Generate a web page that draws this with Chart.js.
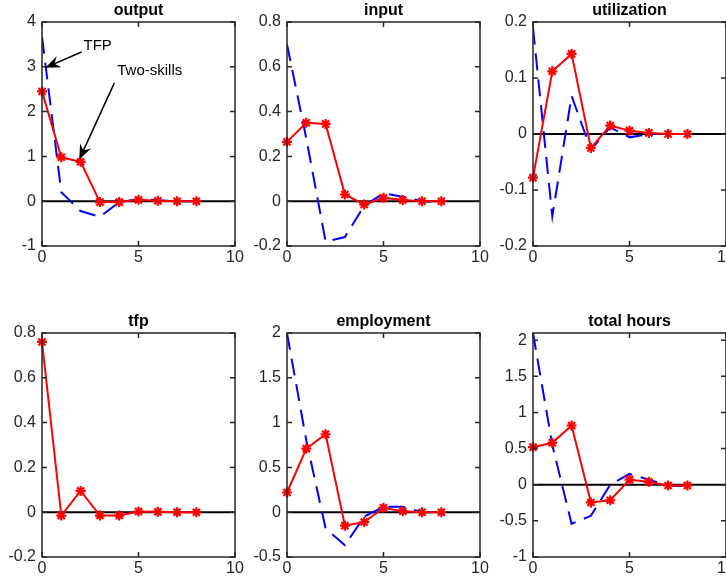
<!DOCTYPE html>
<html>
<head>
<meta charset="utf-8">
<script src="https://cdn.jsdelivr.net/npm/chart.js@4.4.0/dist/chart.umd.min.js"></script>
<style>
  html, body { margin: 0; padding: 0; background: #fff; overflow: hidden; }
  #wrap { position: relative; width: 726px; height: 583px; }
  canvas { position: absolute; }
</style>
</head>
<body>
<div id="wrap">
  <canvas id="c1" width="249" height="272" style="left:0px;top:0px"></canvas>
  <canvas id="c2" width="249" height="272" style="left:245px;top:0px"></canvas>
  <canvas id="c3" width="249" height="272" style="left:491px;top:0px"></canvas>
  <canvas id="c4" width="249" height="272" style="left:0px;top:311px"></canvas>
  <canvas id="c5" width="249" height="272" style="left:245px;top:311px"></canvas>
  <canvas id="c6" width="249" height="272" style="left:491px;top:311px"></canvas>
</div>
<script>
// impulse responses, quarters 0..8
var steps = [0, 1, 2, 3, 4, 5, 6, 7, 8];
var xTicks = [0, 5, 10];

// red = two-skills model, blue dashed = TFP model
var twoSkillsOutput = [2.45, 0.98, 0.88, -0.02, -0.02, 0.03, 0.01, 0.0, 0.0];
var tfpOutput       = [3.67, 0.2, -0.22, -0.35, -0.02, 0.05, 0.02, 0.0, 0.0];

var twoSkillsInput = [0.265, 0.35, 0.345, 0.03, -0.015, 0.015, 0.005, 0.0, 0.0];
var tfpInput       = [0.70, 0.28, -0.18, -0.16, -0.02, 0.035, 0.02, 0.0, -0.005];

var twoSkillsUtil = [-0.078, 0.112, 0.143, -0.025, 0.015, 0.006, 0.002, 0.0, 0.0];
var tfpUtil       = [0.19, -0.147, 0.068, -0.028, 0.012, -0.006, 0.0, 0.0, 0.0];

var twoSkillsTfp = [0.76, -0.015, 0.095, -0.015, -0.015, 0.003, 0.002, 0.0, 0.0];

var twoSkillsEmp = [0.22, 0.71, 0.87, -0.15, -0.11, 0.05, 0.01, 0.0, 0.0];
var tfpEmp       = [2.0, 0.8, -0.18, -0.37, -0.05, 0.06, 0.06, 0.0, 0.0];

var twoSkillsHours = [0.52, 0.58, 0.82, -0.245, -0.215, 0.07, 0.04, -0.01, -0.01];
var tfpHours       = [2.1, 0.55, -0.54, -0.43, 0.0, 0.15, 0.07, -0.01, -0.02];

var yTicksOutput = [-1, 0, 1, 2, 3, 4];
var yTicksInput  = [-0.2, 0, 0.2, 0.4, 0.6, 0.8];
var yTicksUtil   = [-0.2, -0.1, 0, 0.1, 0.2];
var yTicksTfp    = [-0.2, 0, 0.2, 0.4, 0.6, 0.8];
var yTicksEmp    = [-0.5, 0, 0.5, 1, 1.5, 2];
var yTicksHours  = [-1, -0.5, 0, 0.5, 1, 1.5, 2];

var axisColor = '#262626';

function pts(vals) {
    return steps.map(function(s, i) { return { x: s, y: vals[i] }; });
}

// box, inward ticks on all four sides, and the title above
var matlabBox = {
    id: 'matlabBox',
    afterDraw: function(chart, args, opts) {
        var ctx = chart.ctx, a = chart.chartArea;
        var xs = chart.scales.x, ys = chart.scales.y;
        ctx.save();
        ctx.strokeStyle = axisColor;
        ctx.lineWidth = 1.5;
        ctx.strokeRect(a.left, a.top, a.right - a.left, a.bottom - a.top);
        ctx.beginPath();
        xs.ticks.forEach(function(t) {
            var px = xs.getPixelForValue(t.value);
            ctx.moveTo(px, a.bottom); ctx.lineTo(px, a.bottom - 5);
            ctx.moveTo(px, a.top); ctx.lineTo(px, a.top + 5);
        });
        ys.ticks.forEach(function(t) {
            var py = ys.getPixelForValue(t.value);
            ctx.moveTo(a.left, py); ctx.lineTo(a.left + 5, py);
            ctx.moveTo(a.right, py); ctx.lineTo(a.right - 5, py);
        });
        ctx.stroke();
        ctx.fillStyle = '#000';
        ctx.font = 'bold 16px "Liberation Sans", Arial, sans-serif';
        ctx.textAlign = 'center';
        ctx.textBaseline = 'middle';
        ctx.fillText(opts.text, (a.left + a.right) / 2, a.top - 11);
        ctx.restore();
    }
};

function arrow(ctx, x1, y1, x2, y2) {
    var ang = Math.atan2(y2 - y1, x2 - x1);
    var c = Math.cos(ang), s = Math.sin(ang);
    var len = 15, half = 6;
    ctx.beginPath();
    ctx.moveTo(x1, y1);
    ctx.lineTo(x2 - c * 9, y2 - s * 9);
    ctx.stroke();
    ctx.beginPath();
    ctx.moveTo(x2, y2);
    ctx.lineTo(x2 - len * c + half * s, y2 - len * s - half * c);
    ctx.lineTo(x2 - 10 * c, y2 - 10 * s);
    ctx.lineTo(x2 - len * c - half * s, y2 - len * s + half * c);
    ctx.closePath();
    ctx.fill();
}

// text arrows naming the two models
var labelArrows = {
    id: 'labelArrows',
    afterDraw: function(chart, args, opts) {
        if (!opts.items) return;
        var ctx = chart.ctx, xs = chart.scales.x, ys = chart.scales.y;
        ctx.save();
        ctx.strokeStyle = '#000';
        ctx.fillStyle = '#000';
        ctx.lineWidth = 1.5;
        ctx.font = '15px "Liberation Sans", Arial, sans-serif';
        ctx.textBaseline = 'middle';
        opts.items.forEach(function(it) {
            ctx.fillText(it.text, xs.getPixelForValue(it.tx), ys.getPixelForValue(it.ty));
            arrow(ctx, xs.getPixelForValue(it.from[0]), ys.getPixelForValue(it.from[1]),
                       xs.getPixelForValue(it.to[0]), ys.getPixelForValue(it.to[1]));
        });
        ctx.restore();
    }
};

function makePanel(id, title, yTicks, yMax, red, blue, notes) {
    var datasets = [{
        data: pts(red),
        borderColor: '#ff0000',
        borderWidth: 2,
        pointStyle: 'star',
        pointRadius: 5,
        pointBorderWidth: 2.2,
        pointBorderColor: '#ff0000',
        pointBackgroundColor: '#ff0000',
        clip: false,
        order: 0
    }];
    if (blue) {
        datasets.push({
            data: pts(blue),
            borderColor: '#0000ff',
            borderWidth: 2,
            borderDash: [17, 9],
            pointRadius: 0,
            order: 1
        });
    }
    datasets.push({
        data: [{ x: 0, y: 0 }, { x: 10, y: 0 }],
        borderColor: '#000',
        borderWidth: 2,
        pointRadius: 0,
        order: 2
    });

    var ctx = document.getElementById(id);
    return new Chart(ctx, {
        type: 'line',
        data: { datasets: datasets },
        plugins: [matlabBox, labelArrows],
        options: {
            responsive: false,
            animation: false,
            events: [],
            layout: { padding: { top: 22, right: 14, left: 0, bottom: 0 } },
            plugins: {
                legend: { display: false },
                tooltip: { enabled: false },
                matlabBox: { text: title },
                labelArrows: { items: notes }
            },
            scales: {
                x: {
                    type: 'linear',
                    min: 0, max: 10,
                    grid: { display: false, drawTicks: false },
                    border: { display: false },
                    afterBuildTicks: function(s) { s.ticks = xTicks.map(function(v) { return { value: v }; }); },
                    afterFit: function(s) { s.height = 26; s.paddingLeft = 0; s.paddingRight = 0; },
                    ticks: {
                        padding: 2,
                        maxRotation: 0,
                        color: axisColor,
                        font: { family: '"Liberation Sans", Arial, sans-serif', size: 16 },
                        callback: function(v) { return String(v); }
                    }
                },
                y: {
                    type: 'linear',
                    min: yTicks[0], max: yMax,
                    grid: { display: false, drawTicks: false },
                    border: { display: false },
                    afterBuildTicks: function(s) { s.ticks = yTicks.map(function(v) { return { value: v }; }); },
                    afterFit: function(s) { s.width = 42; s.paddingTop = 0; s.paddingBottom = 0; },
                    ticks: {
                        padding: 6,
                        color: axisColor,
                        font: { family: '"Liberation Sans", Arial, sans-serif', size: 16 },
                        callback: function(v) { return String(Math.round(v * 10) / 10); }
                    }
                }
            }
        }
    });
}

makePanel('c1', 'output', yTicksOutput, 4, twoSkillsOutput, tfpOutput, [
    { text: 'TFP', tx: 2.15, ty: 3.47, from: [2.05, 3.33], to: [0.17, 2.98] },
    { text: 'Two-skills', tx: 3.9, ty: 2.92, from: [3.75, 2.64], to: [1.93, 0.93] }
]);
makePanel('c2', 'input', yTicksInput, 0.8, twoSkillsInput, tfpInput);
makePanel('c3', 'utilization', yTicksUtil, 0.2, twoSkillsUtil, tfpUtil);
makePanel('c4', 'tfp', yTicksTfp, 0.8, twoSkillsTfp, null);
makePanel('c5', 'employment', yTicksEmp, 2, twoSkillsEmp, tfpEmp);
makePanel('c6', 'total hours', yTicksHours, 2.1, twoSkillsHours, tfpHours);
</script>
</body>
</html>
